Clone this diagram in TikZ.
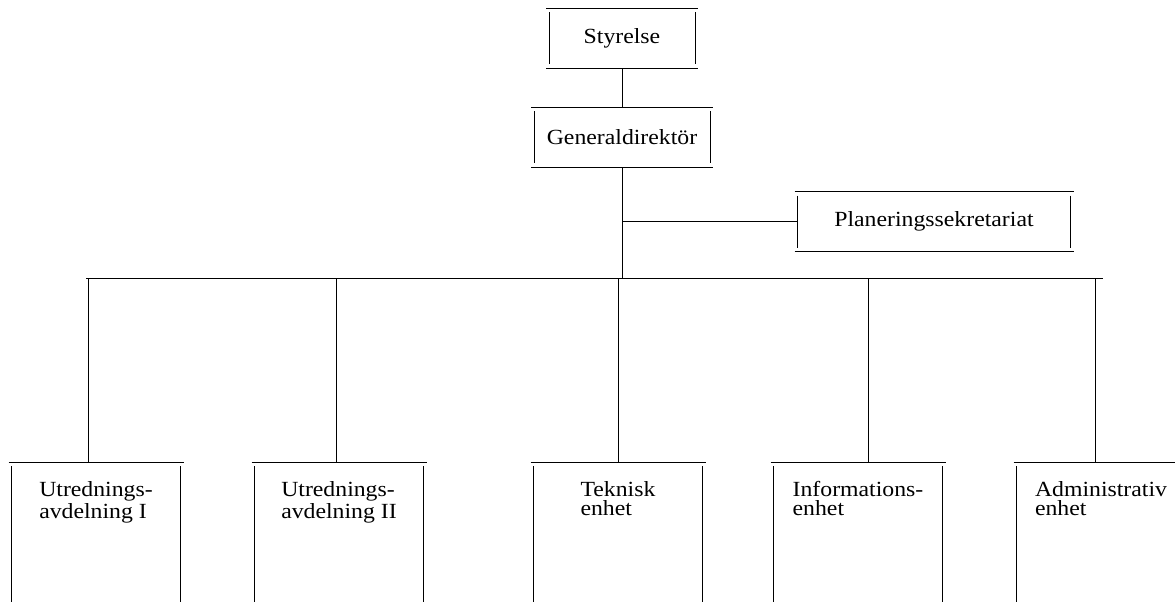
\documentclass[tikz,border=0pt]{standalone}
\usepackage{fontspec}
\setmainfont{Liberation Serif}[FakeStretch=1.1]

\begin{document}
\begin{tikzpicture}
	[x=0.5pt,y=-0.5pt,line width=0.5pt,
	every node/.style={font=\fontsize{10.8}{9.6}\selectfont,inner sep=0pt},
	chef/.style={minimum width=#1,minimum height=29.5pt},
	enhet/.style={anchor=north,minimum width=84pt,align=left,inner ysep=9.5pt}]
	\useasboundingbox (0,0) rectangle (1175,601);
	\node[chef=72.5pt] (sty) at (622,38) {Styrelse};
	\node[chef=87.5pt] (gd) at (622,137) {Generaldirektör};
	\node[chef=136pt] (plan) at (934,221.5) {Planeringssekretariat};
	\node[enhet] (utr1) at (96,462) {Utrednings-\\avdelning I};
	\node[enhet] (utr2) at (339,462) {Utrednings-\\avdelning II};
	\node[enhet] (tek) at (618,462) {Teknisk\\enhet};
	\node[enhet] (info) at (858,462) {Informations-\\enhet};
	\node[enhet] (adm) at (1101,462) {Administrativ\\enhet};
	\coordinate (busL) at (86,278);
	\coordinate (busR) at (1103,278);
	\coordinate (bottom) at (0,610);
	% ramar
	\foreach \n in {sty,gd,plan}
	{
		\draw ([xshift=-1.5pt]\n.north west) -- ([xshift=1.5pt]\n.north east)
		([xshift=-1.5pt]\n.south west) -- ([xshift=1.5pt]\n.south east)
		([yshift=-2pt]\n.north west) -- ([yshift=2pt]\n.south west)
		([yshift=-2pt]\n.north east) -- ([yshift=2pt]\n.south east);
	}
	\foreach \n in {utr1,utr2,tek,info,adm}
	{
		\draw ([xshift=-1.5pt]\n.north west) -- ([xshift=1.5pt]\n.north east)
		([yshift=-2pt]\n.north west) -- (\n.north west |- bottom)
		([yshift=-2pt]\n.north east) -- (\n.north east |- bottom);
	}
	% linjer
	\draw (sty) -- (gd);
	\draw (gd.south) -- (gd.south |- busL);
	\draw (gd.south |- plan.west) -- (plan.west);
	\draw (busL) -- (busR);
	\foreach \n/\dx in {utr1/-4pt,utr2/-1.5pt,tek/0pt,info/5pt,adm/-3pt}
	{
		\draw ([xshift=\dx]\n.north) -- ([xshift=\dx]\n.north |- busL);
	}
\end{tikzpicture}
\end{document}
